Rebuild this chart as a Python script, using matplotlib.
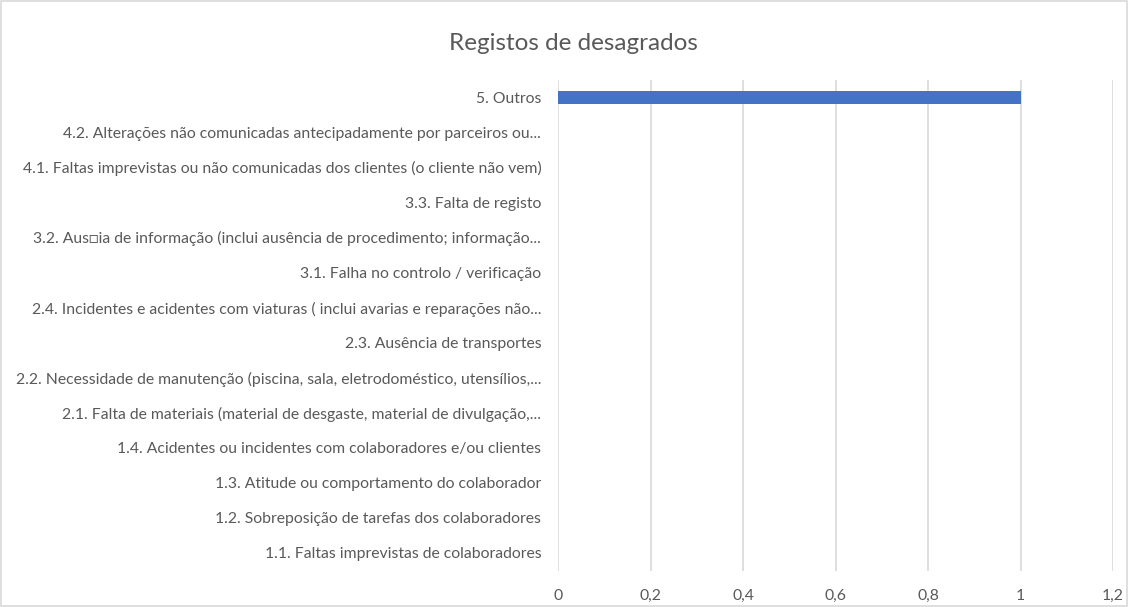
import matplotlib
matplotlib.use("Agg")
import matplotlib.pyplot as plt
from matplotlib.patches import Rectangle
from matplotlib.ticker import FuncFormatter

categories = [
    "1.1. Faltas imprevistas de colaboradores",
    "1.2. Sobreposição de tarefas dos colaboradores",
    "1.3. Atitude ou comportamento do colaborador",
    "1.4. Acidentes ou incidentes com colaboradores e/ou clientes",
    "2.1. Falta de materiais (material de desgaste, material de divulgação,...",
    "2.2. Necessidade de manutenção (piscina, sala, eletrodoméstico, utensílios,...",
    "2.3. Ausência de transportes",
    "2.4. Incidentes e acidentes com viaturas ( inclui avarias e reparações não...",
    "3.1. Falha no controlo / verificação",
    "3.2. Aus\u25a1ia de informação (inclui ausência de procedimento; informação...",
    "3.3. Falta de registo",
    "4.1. Faltas imprevistas ou não comunicadas dos clientes (o cliente não vem)",
    "4.2. Alterações não comunicadas antecipadamente por parceiros ou...",
    "5. Outros",
]
values = [0, 0, 0, 0, 0, 0, 0, 0, 0, 0, 0, 0, 0, 1]
x_ticks = [0, 0.2, 0.4, 0.6, 0.8, 1.0, 1.2]

plt.rcParams['font.family'] = ['Lato', 'DejaVu Sans']
text_color = '#595959'
grid_color = '#d9d9d9'

fig = plt.figure(figsize=(11.28, 6.07), dpi=100)
ax = fig.add_axes([0.4947, 0.0601, 0.492, 0.8089])

ax.barh(range(len(categories)), values, height=0.37, color='#4472c4', zorder=3)

ax.set_xlim(0, 1.2)
ax.set_ylim(-0.5, len(categories) - 0.5)
ax.set_xticks(x_ticks)
ax.xaxis.set_major_formatter(FuncFormatter(lambda v, p: f"{v:g}".replace('.', ',')))
ax.set_yticks(range(len(categories)))
ax.set_yticklabels(categories)
ax.tick_params(axis='both', length=0, colors=text_color, labelsize=11.3)
ax.tick_params(axis='y', pad=12)
ax.tick_params(axis='x', pad=13)
ax.grid(axis='x', color=grid_color, linewidth=1.2, zorder=0)
for s in ax.spines.values():
    s.set_visible(False)

fig.text(0.508, 0.928, "Registos de desagrados", ha='center', va='center',
         fontsize=17.5, color=text_color)

fig.patches.append(Rectangle((0.001, 0.001), 0.998, 0.998, transform=fig.transFigure,
                             fill=False, edgecolor=grid_color, linewidth=1.2))

fig.savefig("out.png", dpi=100)
